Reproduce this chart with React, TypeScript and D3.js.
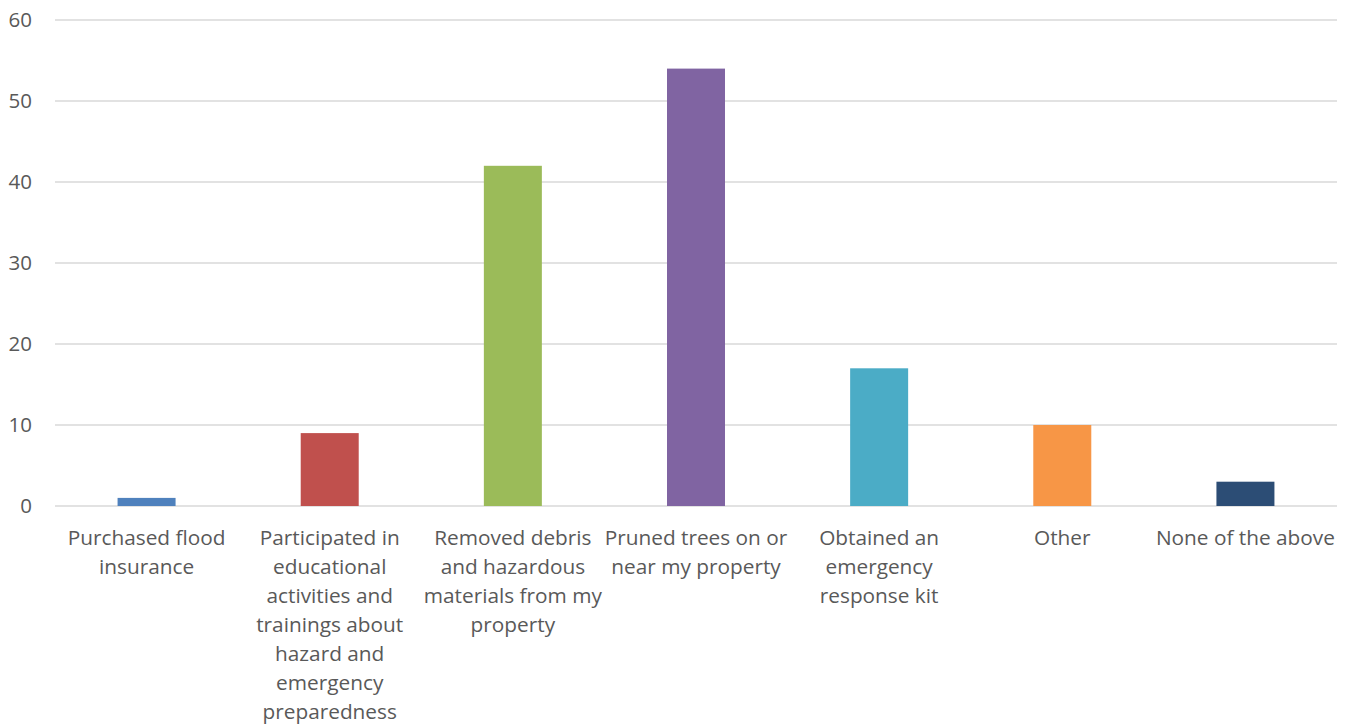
import React from "react";
import * as d3 from "d3";

const categories: string[][] = [
  ["Purchased flood", "insurance"],
  ["Participated in", "educational", "activities and", "trainings about", "hazard and", "emergency", "preparedness"],
  ["Removed debris", "and hazardous", "materials from my", "property"],
  ["Pruned trees on or", "near my property"],
  ["Obtained an", "emergency", "response kit"],
  ["Other"],
  ["None of the above"],
];
const values: number[] = [1, 9, 42, 54, 17, 10, 3];
const colors: string[] = ["#4F81BD", "#C0504D", "#9BBB59", "#8064A2", "#4BACC6", "#F79646", "#2C4D75"];
const yTicks: number[] = [0, 10, 20, 30, 40, 50, 60];

export default function App() {
  const W = 1349, H = 724;
  const left = 55, right = 1337, top = 20, bottom = 506;
  const x = d3.scaleBand<number>().domain(d3.range(values.length)).range([left, right]).paddingInner(0).paddingOuter(0);
  const y = d3.scaleLinear().domain([0, 60]).range([bottom, top]);
  const barW = 58;
  const font = "'Open Sans', sans-serif";
  return (
    <svg width={W} height={H} style={{ position: "absolute", left: 0, top: 0, background: "#fff" }}>
      {yTicks.map((t) => (
        <g key={t}>
          <line x1={left} x2={right} y1={y(t)} y2={y(t)} stroke="#d9d9d9" strokeWidth={1.5} />
          <text x={32} y={y(t)} dy="0.35em" textAnchor="end" fontFamily={font} fontSize={20.5} fill="#595959">{t}</text>
        </g>
      ))}
      {values.map((v, i) => {
        const cx = x(i)! + x.bandwidth() / 2;
        return (
          <rect key={i} x={cx - barW / 2} y={y(v)} width={barW} height={y(0) - y(v)} fill={colors[i]} />
        );
      })}
      {categories.map((lines, i) => {
        const cx = x(i)! + x.bandwidth() / 2;
        return (
          <text key={i} textAnchor="middle" fontFamily={font} fontSize={20.8} fill="#595959">
            {lines.map((l, j) => (
              <tspan key={j} x={cx} y={545 + j * 29}>{l}</tspan>
            ))}
          </text>
        );
      })}
    </svg>
  );
}
